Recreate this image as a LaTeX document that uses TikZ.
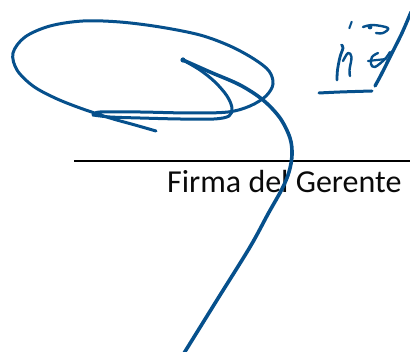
\documentclass[tikz,border=0pt]{standalone}
\usepackage{fontspec}
\setmainfont{Carlito}
\definecolor{ink}{RGB}{6,80,140}
\definecolor{txt}{RGB}{10,10,10}
\tikzset{
  sig/.style={draw=ink,line width=3pt,line cap=round,line join=round},
  sigthick/.style={sig,line width=3.6pt},
  sigthin/.style={sig,line width=2pt},
}
\begin{document}
\begin{tikzpicture}[x=1pt,y=-1pt]
\useasboundingbox (0,0) rectangle (410,352);
\fill[white] (0,0) rectangle (410,352);
% signature line and caption
\draw[black,line width=1.5pt] (74,161) coordinate (l0) -- (412,161) coordinate (l1);
\node[anchor=base west,inner sep=0pt,font=\fontsize{32}{38}\selectfont,text=txt] (cap) at (167,193) {Firma del Gerente};
% inner loop (from start blob down, back left along bottom)
\draw[sig] plot[smooth,tension=0.55] coordinates {(183,60) (200,70) (215,82) (227,96) (232,108) (229,116) (214,119) (180,119) (140,118) (110,117) (93,115)};
% hook, bottom line, big loop and tail
\draw[sig] plot[smooth,tension=0.55] coordinates {(93,115) (100,112) (140,112) (190,113) (228,112) (250,106) (266,96) (273,84) (269,71) (254,59) (230,46) (200,35) (160,27) (120,22) (83,21) (50,26) (25,37) (13,53) (17,70) (33,86) (55,98) (80,108) (110,118) (135,125) (156,131)};
% long descending stroke
\fill[ink] (183,60) circle (2.6pt);
\draw[sigthick] plot[smooth,tension=0.55] coordinates {(183,60) (210,72) (240,85) (263,100) (280,118) (290,138) (292,155) (289,172) (282,189) (268,214) (250,247) (217,300) (181,358)};
% upper right initials
\draw[sigthin] (351.7,21.7) -- (349.3,28.3);
\draw[sig,line width=2.4pt] plot[smooth,tension=0.6] coordinates {(363,27) (373,25) (388,28) (383,33) (376,33)};
\fill[ink] (370,27) circle (2.4pt);
\draw[sig,line width=2.8pt] plot[smooth,tension=0.6] coordinates {(341.5,45) (343,48) (340,57) (337.5,70) (337,80)};
\draw[sig,line width=2.4pt] plot[smooth,tension=0.6] coordinates {(343,61) (348,53) (351.5,57) (349.5,70) (350,76)};
\draw[sig,line width=3.4pt] plot[smooth,tension=0.6] coordinates {(411,12) (402,33) (391,55) (381,75) (375,86)};
\draw[sig,line width=2.4pt] plot[smooth,tension=0.6] coordinates {(378,53) (372,57) (371,64) (375,67) (385,59) (390,52)};
\draw[sig,line width=2.2pt] (368,61) -- (386,59);
\draw[sig,line width=3pt] plot[smooth,tension=0.6] coordinates {(319,93) (340,92) (372,91)};
\end{tikzpicture}
\end{document}
